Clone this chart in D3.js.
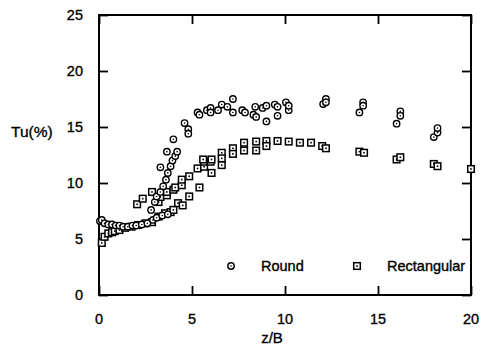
<!DOCTYPE html>
<meta charset="utf-8">
<title>Tu vs z/B</title>
<style>
body { margin: 0; background: #fff; }
svg text { font-family: 'Liberation Sans', Arial, sans-serif; fill: #000; stroke: #000; stroke-width: 0.35px; }
</style>
<body>
<script src="https://d3js.org/d3.v7.min.js"></script>
<script>
// data: z/B and Tu(%)
var roundZ = [0.05, 0.15, 0.3, 0.5, 0.7, 0.9, 1.1, 1.3, 1.55, 1.8, 2.0, 2.3, 2.6, 2.9, 3.1, 3.4, 3.7,
  2.8, 3.0, 3.1, 3.3, 3.45, 3.6, 3.7, 3.85, 3.95, 4.1, 4.2, 3.3, 3.65, 4.0, 4.6, 4.8, 4.8,
  5.3, 5.4, 5.8, 6.0, 6.0, 6.4, 6.6, 6.9, 7.2, 7.2, 7.7, 7.85, 8.3, 8.4, 8.45, 8.8, 9.0, 9.0,
  9.45, 9.6, 9.6, 10.05, 10.2, 10.2, 12.05, 12.2, 12.2, 14.0, 14.2, 14.2, 16.0, 16.2, 16.2,
  18.0, 18.2, 18.2];
var roundTu = [6.6, 6.7, 6.4, 6.3, 6.3, 6.2, 6.2, 6.1, 6.1, 6.2, 6.2, 6.3, 6.4, 6.7, 6.9, 7.1, 7.2,
  7.6, 8.3, 8.8, 9.2, 9.7, 10.3, 10.9, 11.5, 12.0, 12.4, 12.8, 11.4, 12.8, 13.9, 15.35, 14.8, 14.4,
  16.3, 16.1, 16.5, 16.7, 16.3, 16.5, 17.0, 16.8, 17.5, 16.3, 16.5, 16.3, 16.1, 16.8, 15.9, 16.7, 15.5, 16.9,
  17.0, 16.8, 16.0, 17.2, 16.5, 16.9, 17.05, 17.5, 17.2, 16.3, 17.2, 16.9, 15.3, 16.4, 16.0,
  14.1, 14.5, 14.9];

var rectZ = [0.15, 0.3, 0.5, 0.7, 0.85, 1.1, 1.4, 1.75, 2.1, 2.5, 2.85, 3.2, 3.55, 3.85, 4.0, 4.25, 4.5, 4.85, 5.4, 6.05, 6.6,
  2.05, 2.35, 2.85, 3.2, 3.3, 3.65, 3.65, 4.0, 4.1, 4.45, 4.45, 4.85, 5.3, 5.65, 5.65, 6.0, 5.6, 6.05,
  6.6, 6.6, 7.2, 7.2, 7.8, 7.8, 8.45, 8.45, 9.0, 9.0, 9.6, 10.2, 10.8, 11.4, 12.0, 12.2,
  14.0, 14.25, 16.0, 16.2, 18.0, 18.2, 20.0];
var rectTu = [4.65, 5.2, 5.5, 5.6, 5.7, 5.8, 6.0, 6.1, 6.25, 6.4, 6.5, 7.0, 7.3, 7.4, 7.6, 8.2, 8.0, 8.8, 9.6, 10.9, 11.6,
  8.1, 8.6, 9.2, 8.3, 8.75, 8.9, 9.2, 9.4, 9.6, 9.8, 10.3, 10.6, 11.3, 11.45, 11.9, 11.9, 12.1, 12.1,
  12.7, 12.2, 13.1, 12.6, 13.6, 12.9, 13.7, 12.9, 13.75, 13.3, 13.75, 13.7, 13.6, 13.6, 13.3, 13.1,
  12.8, 12.7, 12.1, 12.3, 11.7, 11.5, 11.25];

var xTicks = [0, 5, 10, 15, 20];
var yTicks = [0, 5, 10, 15, 20, 25];

var width = 483, height = 349;
var plotL = 99, plotR = 471, plotT = 15, plotB = 295;

var svg = d3.select("body").append("svg")
    .attr("width", width)
    .attr("height", height);

var x = d3.scaleLinear().domain([0, 20]).range([plotL, plotR]);
var y = d3.scaleLinear().domain([0, 25]).range([plotB, plotT]);

// inward ticks on all four sides
svg.append("g").attr("transform", "translate(0," + plotB + ")")
    .call(d3.axisBottom(x).tickValues(xTicks).tickSize(-9).tickFormat(""));
svg.append("g").attr("transform", "translate(0," + plotT + ")")
    .call(d3.axisTop(x).tickValues(xTicks).tickSize(-9).tickFormat(""));
svg.append("g").attr("transform", "translate(" + plotL + ",0)")
    .call(d3.axisLeft(y).tickValues(yTicks).tickSize(-9).tickFormat(""));
svg.append("g").attr("transform", "translate(" + plotR + ",0)")
    .call(d3.axisRight(y).tickValues(yTicks).tickSize(-9).tickFormat(""));
svg.selectAll(".tick line").attr("stroke", "#000").attr("stroke-width", 1.8);
svg.selectAll(".domain").remove();

// frame
svg.append("rect")
    .attr("x", plotL).attr("y", plotT)
    .attr("width", plotR - plotL).attr("height", plotB - plotT)
    .attr("fill", "none").attr("stroke", "#000").attr("stroke-width", 2);

// tick labels
svg.selectAll("text.xl").data(xTicks).enter().append("text")
    .attr("x", function(d) { return x(d); })
    .attr("y", 324)
    .attr("text-anchor", "middle")
    .attr("font-size", 14.5)
    .text(function(d) { return d; });
svg.selectAll("text.yl").data(yTicks).enter().append("text")
    .attr("x", 83)
    .attr("y", function(d) { return y(d) + 5; })
    .attr("text-anchor", "end")
    .attr("font-size", 14.5)
    .text(function(d) { return d; });

svg.append("text").attr("x", 272).attr("y", 343)
    .attr("text-anchor", "middle").attr("font-size", 15).text("z/B");
svg.append("text").attr("x", 11).attr("y", 137)
    .attr("font-size", 15.5).text("Tu(%)");

// markers
function roundMark(g, cx, cy) {
  g.append("circle").attr("cx", cx).attr("cy", cy).attr("r", 3.2)
    .attr("fill", "#fff").attr("stroke", "#000").attr("stroke-width", 1.4);
  g.append("circle").attr("cx", cx).attr("cy", cy).attr("r", 0.8).attr("fill", "#000");
}
function rectMark(g, cx, cy) {
  g.append("rect").attr("x", cx - 3.3).attr("y", cy - 3.3).attr("width", 6.6).attr("height", 6.6)
    .attr("fill", "#fff").attr("stroke", "#000").attr("stroke-width", 1.5);
  g.append("rect").attr("x", cx - 0.8).attr("y", cy - 0.8).attr("width", 1.6).attr("height", 1.6).attr("fill", "#000");
}

var gRect = svg.append("g");
rectZ.forEach(function(z, i) { rectMark(gRect, x(z), y(rectTu[i])); });
var gRound = svg.append("g");
roundZ.forEach(function(z, i) { roundMark(gRound, x(z), y(roundTu[i])); });

// legend
var gLeg = svg.append("g");
roundMark(gLeg, 231, 266);
gLeg.append("text").attr("x", 261).attr("y", 271).attr("font-size", 14.5).text("Round");
rectMark(gLeg, 357, 266);
gLeg.append("text").attr("x", 387).attr("y", 271).attr("font-size", 14.5).text("Rectangular");
</script>
</body>
